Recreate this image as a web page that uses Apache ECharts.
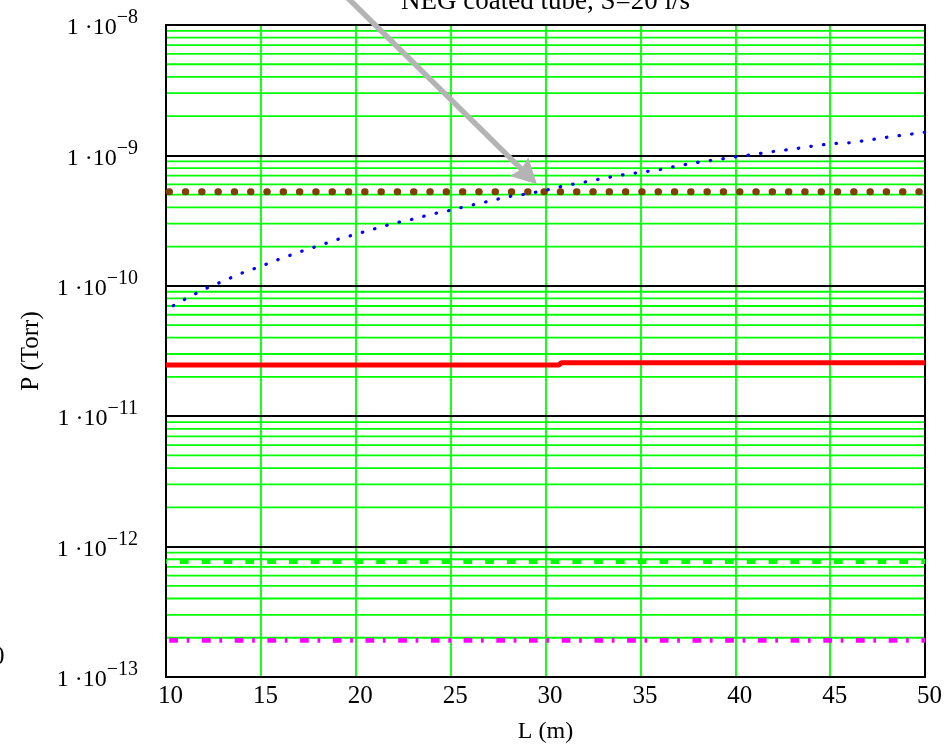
<!DOCTYPE html>
<html><head><meta charset="utf-8">
<script src="https://cdn.jsdelivr.net/npm/echarts@6/dist/echarts.min.js"></script>
<style>html,body{margin:0;padding:0;background:#fff}#c{width:952px;height:749px}</style>
</head><body><div id="c"></div>
<script>
// ---- data ----
const L = [10,11,12,13,14,15,16,17,18,19,20,21,22,23,24,25,26,27,28,29,30,31,32,33,34,35,36,37,38,39,40,41,42,43,44,45,46,47,48,49,50];
const pBlue = [6.56e-11,7.90e-11,9.39e-11,1.086e-10,1.252e-10,1.411e-10,1.607e-10,1.811e-10,2.016e-10,2.260e-10,
  2.485e-10,2.738e-10,3.016e-10,3.241e-10,3.545e-10,3.796e-10,4.130e-10,4.445e-10,4.822e-10,5.056e-10,
  5.397e-10,5.857e-10,6.218e-10,6.648e-10,7.068e-10,7.418e-10,7.765e-10,8.329e-10,8.828e-10,9.256e-10,
  9.739e-10,1.0177e-9,1.071e-9,1.115e-9,1.174e-9,1.228e-9,1.250e-9,1.308e-9,1.379e-9,1.439e-9,1.506e-9];
const brownX = [10, 50];
const pBrown = [5.27e-10, 5.27e-10];
const redX = [10, 30.7, 30.84, 50];
const pRed = [2.47e-11, 2.47e-11, 2.57e-11, 2.57e-11];
const greenX = [10, 50];
const pGreen = [7.68e-13, 7.68e-13];
const magentaX = [10, 50];
const pMagenta = [1.91e-13, 1.91e-13];
const decades = [-13, -12, -11, -10, -9];
const minorMult = [2, 3, 4, 5, 6, 7, 8, 9];
const titleText = 'NEG coated tube, S=20 l/s';
// annotation arrow (data space): start, tip
const arrowStart = [19.6, 1.6e-8];
const arrowTip = [29.55, 6.0e-10];

const FONT = '"Liberation Serif", "Times New Roman", serif';
const minorVals = [];
decades.forEach(e => minorMult.forEach(m => minorVals.push(m * Math.pow(10, e))));
const pairs = (xs, ys) => xs.map((x, i) => [x, ys[i]]);
const xMin = L[0], xMax = L[L.length - 1];

const chart = echarts.init(document.getElementById('c'), null, {renderer: 'canvas'});
const option = {
  animation: false,
  backgroundColor: '#fff',
  grid: {left: 166, right: 27, top: 25, bottom: 69, containLabel: false},
  xAxis: [{
    type: 'value', min: 10, max: 50, interval: 5, position: 'bottom', z: 1,
    axisLine: {show: true, onZero: false, lineStyle: {color: '#000', width: 2}},
    axisTick: {show: false},
    axisLabel: {fontFamily: FONT, fontSize: 25, color: '#000', margin: 7, padding: [0, 0, 0, 9]},
    splitLine: {show: true, lineStyle: {color: '#00ff00', width: 1.8}},
    name: 'L (m)', nameLocation: 'middle', nameGap: 43,
    nameTextStyle: {fontFamily: FONT, fontSize: 24, color: '#000'}
  }, {
    type: 'value', min: 10, max: 50, interval: 5, position: 'top', z: 3,
    axisLine: {show: true, onZero: false, lineStyle: {color: '#000', width: 2}},
    axisTick: {show: false}, axisLabel: {show: false}, splitLine: {show: false}
  }],
  yAxis: [{
    type: 'log', logBase: 10, min: 1e-13, max: 1e-8, position: 'left', z: 3,
    axisLine: {show: true, lineStyle: {color: '#000', width: 2}},
    axisTick: {show: false},
    axisLabel: {
      margin: 28, padding: [6, 0, 0, 0],
      formatter: v => {
        const e = Math.round(Math.log10(v));
        return '{b|1 \u00b710}{s|\u2212' + Math.abs(e) + '}';
      },
      rich: {
        b: {fontFamily: FONT, fontSize: 24, color: '#000', lineHeight: 40},
        s: {fontFamily: FONT, fontSize: 20, color: '#000', lineHeight: 18, verticalAlign: 'top'}
      }
    },
    splitLine: {show: true, lineStyle: {color: '#000', width: 2}},
    name: 'P (Torr)', nameLocation: 'middle', nameGap: 122, nameRotate: 90,
    nameTextStyle: {fontFamily: FONT, fontSize: 25, color: '#000'}
  }, {
    type: 'log', logBase: 10, min: 1e-13, max: 1e-8, position: 'right', z: 3,
    axisLine: {show: true, lineStyle: {color: '#000', width: 2}},
    axisTick: {show: false}, axisLabel: {show: false}, splitLine: {show: false}
  }],
  series: [
    {
      type: 'custom', z: 1, silent: true, clip: false,
      data: minorVals.map(v => [xMin, v]),
      renderItem: (params, api) => {
        const v = api.value(1);
        const a = api.coord([xMin, v]), b = api.coord([xMax, v]);
        return {type: 'line', shape: {x1: a[0], y1: a[1], x2: b[0], y2: b[1]},
          style: {stroke: '#00ff00', lineWidth: 1.8}};
      }
    },
    {
      type: 'line', data: pairs(redX, pRed), showSymbol: false, z: 4, silent: true,
      lineStyle: {color: '#ff0000', width: 5}
    },
    {
      type: 'line', data: pairs(brownX, pBrown), showSymbol: false, z: 4, silent: true,
      lineStyle: {color: '#804000', width: 7, type: [0.5, 15.8], cap: 'round', dashOffset: 13.3}
    },
    {
      type: 'line', data: pairs(L, pBlue), showSymbol: false, z: 5, silent: true,
      lineStyle: {color: '#0000ff', width: 3.2, type: [0.5, 12.2], cap: 'round', dashOffset: 4.4}
    },
    {
      type: 'line', data: pairs(greenX, pGreen), showSymbol: false, z: 4, silent: true,
      lineStyle: {color: '#00ff00', width: 5, type: [8.7, 13.1], dashOffset: 7.8}
    },
    {
      type: 'line', data: pairs(magentaX, pMagenta), showSymbol: false, z: 4, silent: true,
      lineStyle: {color: '#ff00ff', width: 4.7, type: [8.7, 8.7, 2.7, 12.6], dashOffset: 29.4}
    }
  ]
};
chart.setOption(option);

// annotations
const s = chart.convertToPixel({xAxisIndex: 0, yAxisIndex: 0}, arrowStart);
const t = chart.convertToPixel({xAxisIndex: 0, yAxisIndex: 0}, arrowTip);
const dx = t[0] - s[0], dy = t[1] - s[1], len = Math.hypot(dx, dy);
const ux = dx / len, uy = dy / len, px = -uy, py = ux;
const headL = 25, headW = 13;
const bx = t[0] - ux * headL, by = t[1] - uy * headL;
const cx = (chart.getWidth() - 27 + 166) / 2;
chart.setOption({
  graphic: [
    {type: 'line', z: 50, shape: {x1: s[0] - ux * 20, y1: s[1] - uy * 20, x2: bx + ux * 4, y2: by + uy * 4},
      style: {stroke: '#b4b4b4', lineWidth: 5.5}},
    {type: 'polygon', z: 50, shape: {points: [[t[0], t[1]], [bx + px * headW, by + py * headW], [bx + ux * 3, by + uy * 3], [bx - px * headW, by - py * headW]]},
      style: {fill: '#b4b4b4'}},
    {type: 'text', z: 50, x: cx, y: 1.5,
      style: {text: titleText, font: '27px ' + FONT, fill: '#000', textAlign: 'center', textVerticalAlign: 'middle'}},
    {type: 'text', z: 50, x: -8, y: 657,
      style: {text: '0', font: '25px ' + FONT, fill: '#000', textAlign: 'left', textVerticalAlign: 'middle'}}
  ]
});
</script></body></html>
